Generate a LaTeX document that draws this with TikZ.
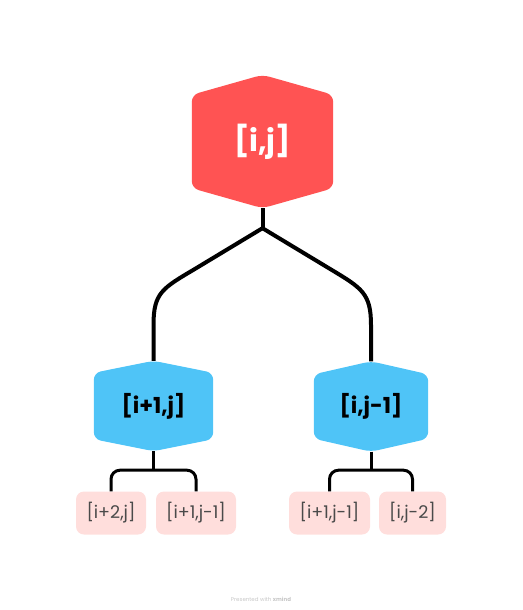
\documentclass[tikz,border=0pt]{standalone}
\usepackage{fontspec}
\setmainfont{Poppins}
\usetikzlibrary{backgrounds}

\definecolor{rootred}{HTML}{FF5353}
\definecolor{subblue}{HTML}{4FC4F7}
\definecolor{leafpink}{HTML}{FFDEDC}
\definecolor{leaftext}{HTML}{4A4A4A}

\tikzset{
  root/.style={minimum width=141pt, minimum height=133pt, inner sep=0pt,
    text=white, font=\bfseries\fontsize{30}{30}\selectfont},
  sub/.style={minimum height=90pt, inner sep=0pt,
    text=black, font=\bfseries\fontsize{22}{22}\selectfont},
  leaf/.style={fill=leafpink, rounded corners=8pt, minimum height=43pt, inner sep=0pt,
    text=leaftext, font=\fontsize{17.5}{17.5}\selectfont},
  trunk/.style={line width=4pt},
  twig/.style={line width=3pt, rounded corners=9pt},
}

% hexagon behind a node: name, inset of the side corners, colour
\newcommand{\hexfill}[3]{%
  \fill[#3, rounded corners=7pt] (#1.north) -- ([yshift=-#2]#1.north east)
    -- ([yshift=#2]#1.south east) -- (#1.south) -- ([yshift=#2]#1.south west)
    -- ([yshift=-#2]#1.north west) -- cycle;}

\begin{document}
\begin{tikzpicture}[x=1pt, y=-1pt]
  \useasboundingbox (0,0) rectangle (522,610);

  \node[root] (ij) at (262.5,141.5) {[i,j]};
  \node[sub, minimum width=119pt] (i1j) at (153.5,406) {[i+1,j]};
  \node[sub, minimum width=114pt] (ij1) at (371,406.5) {[i,j-1]};

  \node[leaf, minimum width=70pt] (i2j) at (111,513) {[i+2,j]};
  \node[leaf, minimum width=80pt] (i1j1a) at (196,513) {[i+1,j-1]};
  \node[leaf, minimum width=81pt] (i1j1b) at (329.5,513) {[i+1,j-1]};
  \node[leaf, minimum width=67pt] (ij2) at (412.5,513) {[i,j-2]};

  \begin{scope}[on background layer]
    \hexfill{ij}{20pt}{rootred}
    \hexfill{i1j}{12pt}{subblue}
    \hexfill{ij1}{13pt}{subblue}
  \end{scope}

  % root to the two subtopics
  \draw[trunk] (ij.south) -- ++(0,20) coordinate (fork);
  \draw[trunk] (fork) -- ++(-68,41) .. controls +(-32,19) and +(0,-32) .. ([yshift=36pt]i1j.north) -- (i1j.north);
  \draw[trunk] (fork) -- ++(68,41) .. controls +(31.5,19) and +(0,-32) .. ([yshift=36pt]ij1.north) -- (ij1.north);

  % subtopics to their leaves
  \draw[twig] (i1j.south) -- ++(0,19) coordinate (i1jk);
  \draw[twig] (i2j.north) |- (i1jk) -| (i1j1a.north);
  \draw[twig] (ij1.south) -- ++(0,18.5) coordinate (ij1k);
  \draw[twig] (i1j1b.north) |- (ij1k) -| (ij2.north);

  \node[text=black!22, font=\fontsize{5.5}{6}\selectfont] (credit) at (261,599) {Presented with \textbf{xmind}};
\end{tikzpicture}
\end{document}
